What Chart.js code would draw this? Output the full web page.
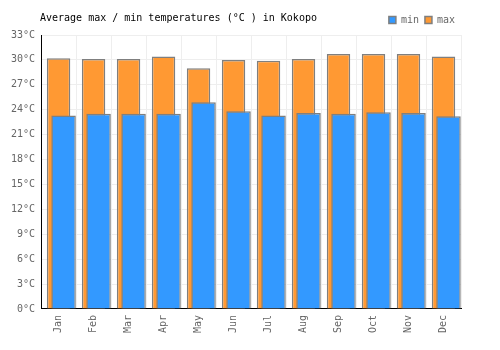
<!DOCTYPE html>
<html>
<head>
<meta charset="utf-8">
<script src="https://cdn.jsdelivr.net/npm/chart.js@4/dist/chart.umd.min.js"></script>
<style>
  html, body { margin: 0; padding: 0; background: #fff; }
  #wrap { width: 500px; height: 350px; }
</style>
</head>
<body>
<div id="wrap"><canvas id="kokopo"></canvas></div>
<script>
var months = ['Jan', 'Feb', 'Mar', 'Apr', 'May', 'Jun', 'Jul', 'Aug', 'Sep', 'Oct', 'Nov', 'Dec'];
var minTemps = [23.3, 23.5, 23.5, 23.5, 24.9, 23.8, 23.3, 23.6, 23.5, 23.7, 23.6, 23.2];
var maxTemps = [30.2, 30.1, 30.1, 30.4, 29.0, 30.0, 29.9, 30.1, 30.7, 30.7, 30.7, 30.4];
var yTicks = [0, 3, 6, 9, 12, 15, 18, 21, 24, 27, 30, 33];

var mono = 'DejaVu Sans Mono';
Chart.defaults.font.family = mono;
Chart.defaults.font.size = 10;
Chart.defaults.color = '#666';

// title sits on the same row as the legend, so draw it by hand
var titlePlugin = {
    id: 'leftTitle',
    afterDraw: function (chart) {
        var c = chart.ctx;
        c.save();
        c.font = '10px "' + mono + '"';
        c.fillStyle = '#000';
        c.textBaseline = 'middle';
        c.textAlign = 'left';
        c.fillText('Average max / min temperatures (°C ) in Kokopo', 40, 18);
        c.restore();
    }
};

// min bars overlap the max bars, pushed a few px to the right
var shiftPlugin = {
    id: 'shiftMin',
    afterLayout: function (chart) {
        var s = chart.scales.x2;
        s.left += 5;
        s.right += 5;
        s.configure();
    }
};

var ctx = document.getElementById('kokopo');

var data = {
    labels: months,
    datasets: [{
        label: 'min',
        data: minTemps,
        xAxisID: 'x2',
        order: 1,
        grouped: false,
        backgroundColor: '#3399ff',
        borderColor: '#7f7f7f',
        borderWidth: 1.5,
        categoryPercentage: 1,
        barPercentage: 0.7
    }, {
        label: 'max',
        data: maxTemps,
        xAxisID: 'x',
        order: 2,
        grouped: false,
        backgroundColor: '#ff9933',
        borderColor: '#7f7f7f',
        borderWidth: 1.5,
        categoryPercentage: 1,
        barPercentage: 0.67
    }]
};

var config = {
    type: 'bar',
    data: data,
    plugins: [titlePlugin, shiftPlugin],
    options: {
        responsive: true,
        maintainAspectRatio: false,
        animation: false,
        layout: { padding: { top: 9, right: 39, left: 5, bottom: 11 } },
        plugins: {
            title: { display: false },
            tooltip: { enabled: false },
            legend: {
                position: 'top',
                align: 'end',
                labels: {
                    boxWidth: 7,
                    boxHeight: 7,
                    padding: 6,
                    color: '#666',
                    font: { family: mono, size: 10 }
                }
            }
        },
        scales: {
            x: {
                grid: { color: '#eeeeee', drawTicks: false, offset: true },
                border: { color: '#000', width: 1 },
                ticks: { maxRotation: 90, minRotation: 90, padding: 6, color: '#666' }
            },
            x2: {
                display: false,
                grid: { offset: true }
            },
            y: {
                min: 0,
                max: 33,
                afterBuildTicks: function (axis) {
                    axis.ticks = yTicks.map(function (v) { return { value: v }; });
                },
                grid: { color: '#eeeeee', drawTicks: false },
                border: { color: '#000', width: 1 },
                ticks: {
                    padding: 6,
                    color: '#666',
                    callback: function (value) { return value + '°C'; }
                }
            }
        }
    }
};

new Chart(ctx, config);
</script>
</body>
</html>
